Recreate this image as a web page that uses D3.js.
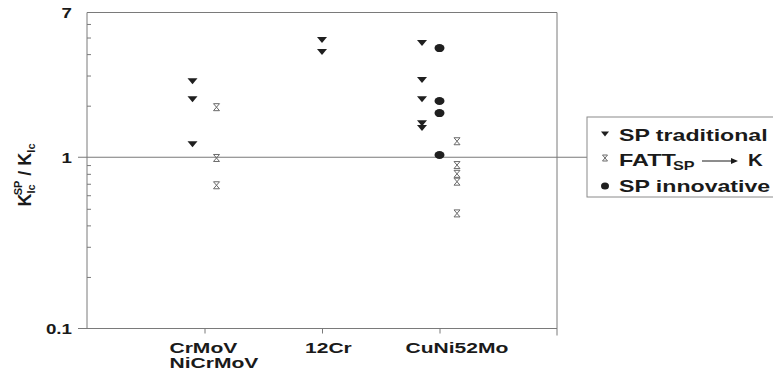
<!DOCTYPE html>
<html><head><meta charset="utf-8">
<script src="https://cdn.jsdelivr.net/npm/d3@7"></script>
<style>
body{margin:0;background:#fff;}
svg{display:block;}
text{font-family:"Liberation Sans",Arial,sans-serif;font-weight:bold;fill:#1a1a1a;}
</style></head>
<body><svg id="c" width="773" height="372"></svg>
<script>
// ---- data ----
const categories = [["CrMoV","NiCrMoV"],["12Cr"],["CuNi52Mo"]];
const tradCat = [0,0,0,1,1,2,2,2,2,2];
const tradVal = [2.78,2.18,1.19,4.83,4.11,4.64,2.82,2.18,1.58,1.48];
const fattCat = [0,0,0,2,2,2,2,2];
const fattVal = [1.96,0.99,0.686,1.24,0.90,0.80,0.72,0.47];
const innovCat = [2,2,2,2];
const innovVal = [4.34,2.13,1.81,1.03];
const majorTicks = [0.1,1,7];
const majorLabels = ["0.1","1","7"];
const minorTicks = [0.2,0.3,0.4,0.5,0.6,0.7,0.8,0.9,2,3,4,5,6];
const legendLabels = ["SP traditional","FATT","SP innovative"];

// ---- layout ----
const L=87,R=557,T=12.5,B=328.5, STRETCH=1.45;
const svg=d3.select("#c");
const x=d3.scaleLinear().domain([0,4]).range([L,R]);
const y=d3.scaleLog().domain([0.1,7]).range([B,T]);
const axisCol="#7a7a7a";

function stretch(sel,f){sel.each(function(){const w=this.getComputedTextLength();d3.select(this).attr("textLength",w*(f||STRETCH)).attr("lengthAdjust","spacingAndGlyphs");});}

// frame
svg.append("line").attr("x1",L).attr("x2",R).attr("y1",y(7)).attr("y2",y(7)).attr("stroke",axisCol);
svg.append("line").attr("x1",R).attr("x2",R).attr("y1",y(7)).attr("y2",B+7).attr("stroke",axisCol);
svg.append("line").attr("x1",L-9).attr("x2",R).attr("y1",y(0.1)).attr("y2",y(0.1)).attr("stroke",axisCol);
svg.append("line").attr("x1",L).attr("x2",L).attr("y1",y(7)).attr("y2",y(0.1)).attr("stroke",axisCol);
// reference line at 1
svg.append("line").attr("x1",L-9).attr("x2",587).attr("y1",y(1)).attr("y2",y(1)).attr("stroke",axisCol).attr("stroke-width",1.2);

// minor ticks (inward)
const gm=svg.append("g").attr("transform",`translate(${L},0)`).call(d3.axisRight(y).tickValues(minorTicks).tickSize(4).tickFormat(""));
gm.select(".domain").remove(); gm.selectAll("line").attr("stroke",axisCol);
// major labels
const gM=svg.append("g").attr("transform",`translate(${L},0)`).call(d3.axisLeft(y).tickValues(majorTicks).tickSize(0).tickPadding(15).tickFormat((d,i)=>majorLabels[i]));
gM.select(".domain").remove();
gM.selectAll("text").attr("font-size",15).attr("fill","#1a1a1a").attr("font-family",null).attr("dy","0.35em");
gM.selectAll("text").each(function(){const w=this.getComputedTextLength();d3.select(this).attr("textLength",w*1.25).attr("lengthAdjust","spacingAndGlyphs");});

// x ticks
const gx=svg.append("g").attr("transform",`translate(0,${B})`).call(d3.axisBottom(x).tickValues([1,2,3]).tickSize(5).tickFormat(""));
gx.select(".domain").remove(); gx.selectAll("line").attr("stroke",axisCol);

// category labels
const labelDx=[-35,-17,-34];
categories.forEach((lines,i)=>{
  lines.forEach((t,j)=>{
    const tx=svg.append("text").attr("x",x(i+1)+labelDx[i]).attr("y",353+j*15).attr("font-size",14.5).text(t);
    stretch(tx);
  });
});

// y label
const yl=svg.append("text").attr("transform","translate(31,175) rotate(-90)").attr("text-anchor","middle").attr("font-size",18);
yl.append("tspan").text("K");
yl.append("tspan").attr("font-size",11).attr("dy",4).text("Ic");
yl.append("tspan").attr("font-size",11).attr("dx",-11).attr("dy",-13).text("SP");
yl.append("tspan").attr("dy",9).text(" / K");
yl.append("tspan").attr("font-size",11).attr("dy",4).text("Ic");

// markers
const tri="M-5,-3L5,-3L0,3Z";
const hg="M-3,-3.5H3L-3,3.5H3Z";
function seriesOffset(cat,s){
  const pres=[tradCat.includes(cat),innovCat.includes(cat),fattCat.includes(cat)];
  const idx=pres.slice(0,s).filter(Boolean).length, n=pres.filter(Boolean).length;
  const sp = n===2?24:17.5;
  return (idx-(n-1)/2)*sp;
}
svg.append("g").selectAll("path").data(tradVal).join("path")
  .attr("d",tri).attr("fill","#1f1f1f")
  .attr("transform",(d,i)=>`translate(${x(tradCat[i]+1)+seriesOffset(tradCat[i],0)},${y(d)})`);
svg.append("g").selectAll("ellipse").data(innovVal).join("ellipse")
  .attr("rx",5).attr("ry",4).attr("fill","#1f1f1f")
  .attr("cx",(d,i)=>x(innovCat[i]+1)+seriesOffset(innovCat[i],1)).attr("cy",d=>y(d));
svg.append("g").selectAll("path").data(fattVal).join("path")
  .attr("d",hg).attr("fill","none").attr("stroke","#6a6a6a").attr("stroke-width",1)
  .attr("transform",(d,i)=>`translate(${x(fattCat[i]+1)+seriesOffset(fattCat[i],2)},${y(d)})`);

// legend
svg.append("rect").attr("x",587).attr("y",117).attr("width",200).attr("height",80).attr("fill","none").attr("stroke","#8a8a8a");
const lx=605, tx0=619, rows=[135,160,186];
svg.append("path").attr("d","M-4,-2.5L4,-2.5L0,2.5Z").attr("fill","#1f1f1f").attr("transform",`translate(${lx},${rows[0]-1})`);
svg.append("path").attr("d","M-2.5,-3H2.5L-2.5,3H2.5Z").attr("fill","none").attr("stroke","#6a6a6a").attr("transform",`translate(${lx},${rows[1]-2})`);
svg.append("ellipse").attr("rx",4).attr("ry",3.5).attr("fill","#1f1f1f").attr("cx",lx).attr("cy",rows[2]);
stretch(svg.append("text").attr("x",tx0).attr("y",rows[0]+6).attr("font-size",17).text(legendLabels[0]),1.36);
stretch(svg.append("text").attr("x",tx0).attr("y",rows[2]+6).attr("font-size",17).text(legendLabels[2]),1.36);
stretch(svg.append("text").attr("x",tx0).attr("y",rows[1]+6).attr("font-size",17).text(legendLabels[1]),1.38);
stretch(svg.append("text").attr("x",673).attr("y",rows[1]+10).attr("font-size",12).text("SP"),1.35);
svg.append("line").attr("x1",702).attr("x2",732).attr("y1",rows[1]+1).attr("y2",rows[1]+1).attr("stroke","#1a1a1a").attr("stroke-width",1);
svg.append("path").attr("d","M0,-3L7,0L0,3Z").attr("fill","#1a1a1a").attr("transform",`translate(731,${rows[1]+1})`);
stretch(svg.append("text").attr("x",748).attr("y",rows[1]+6).attr("font-size",17).text("K"),1.2);
</script></body></html>
